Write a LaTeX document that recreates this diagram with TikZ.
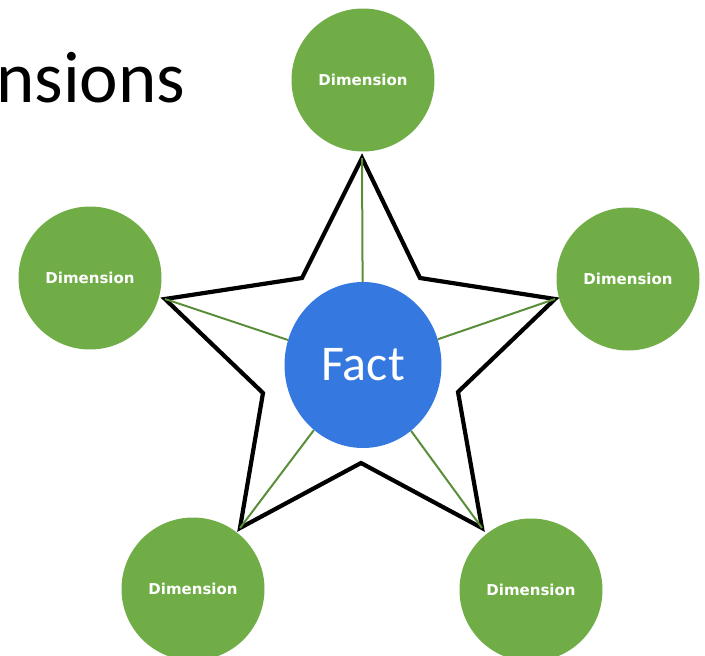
\documentclass[tikz,border=0pt]{standalone}
\usepackage{fontspec}
\setmainfont{Carlito}
\newfontfamily\dimfont{DejaVu Sans}
\usetikzlibrary{shapes.geometric}
\definecolor{dimgreen}{HTML}{70AD47}
\definecolor{linegreen}{HTML}{5A8E38}
\definecolor{factblue}{HTML}{3579E0}
\begin{document}
\begin{tikzpicture}[x=1pt,y=-1pt,
  dimnode/.style={circle,fill=dimgreen,draw=none,minimum size=143pt,inner sep=0pt,
    text=white,font=\dimfont\bfseries\fontsize{15}{18}\selectfont},
  factnode/.style={ellipse,fill=factblue,draw=none,minimum width=157pt,minimum height=166pt,
    inner sep=0pt,text=white,font=\fontsize{50}{60}\selectfont},
  starline/.style={draw=black,line width=4.2pt,line join=miter,miter limit=10},
  spoke/.style={draw=linegreen,line width=2pt}]
\useasboundingbox (0,0) rectangle (705,656);
% title fragment
\node[anchor=base west,inner sep=0pt,font=\fontsize{73}{88}\selectfont] (title) at (-4,102) {nsions};
% star points
\coordinate (sT) at (362,158);
\coordinate (iTL) at (302,278);
\coordinate (sL) at (165,299);
\coordinate (iL) at (263,393);
\coordinate (sBL) at (240,528);
\coordinate (iB) at (361,463);
\coordinate (sBR) at (482,528);
\coordinate (iR) at (458,392);
\coordinate (sR) at (555,299);
\coordinate (iTR) at (420,278);
\path[starline] (sT) -- (iTR) -- (sR) -- (iR) -- (sBR) -- (iB) -- (sBL) -- (iL) -- (sL) -- (iTL) -- cycle;
% fact
\node[factnode] (fact) at (363,365) {Fact};
\foreach \p in {sT,sL,sBL,sBR,sR}{\path[spoke] (\p) -- (fact);}
% dimensions
\node[dimnode] (dT) at (363,80) {Dimension};
\node[dimnode] (dL) at (90,278) {Dimension};
\node[dimnode] (dR) at (628,279) {Dimension};
\node[dimnode] (dBL) at (193,589) {Dimension};
\node[dimnode] (dBR) at (531,590) {Dimension};
\end{tikzpicture}
\end{document}
